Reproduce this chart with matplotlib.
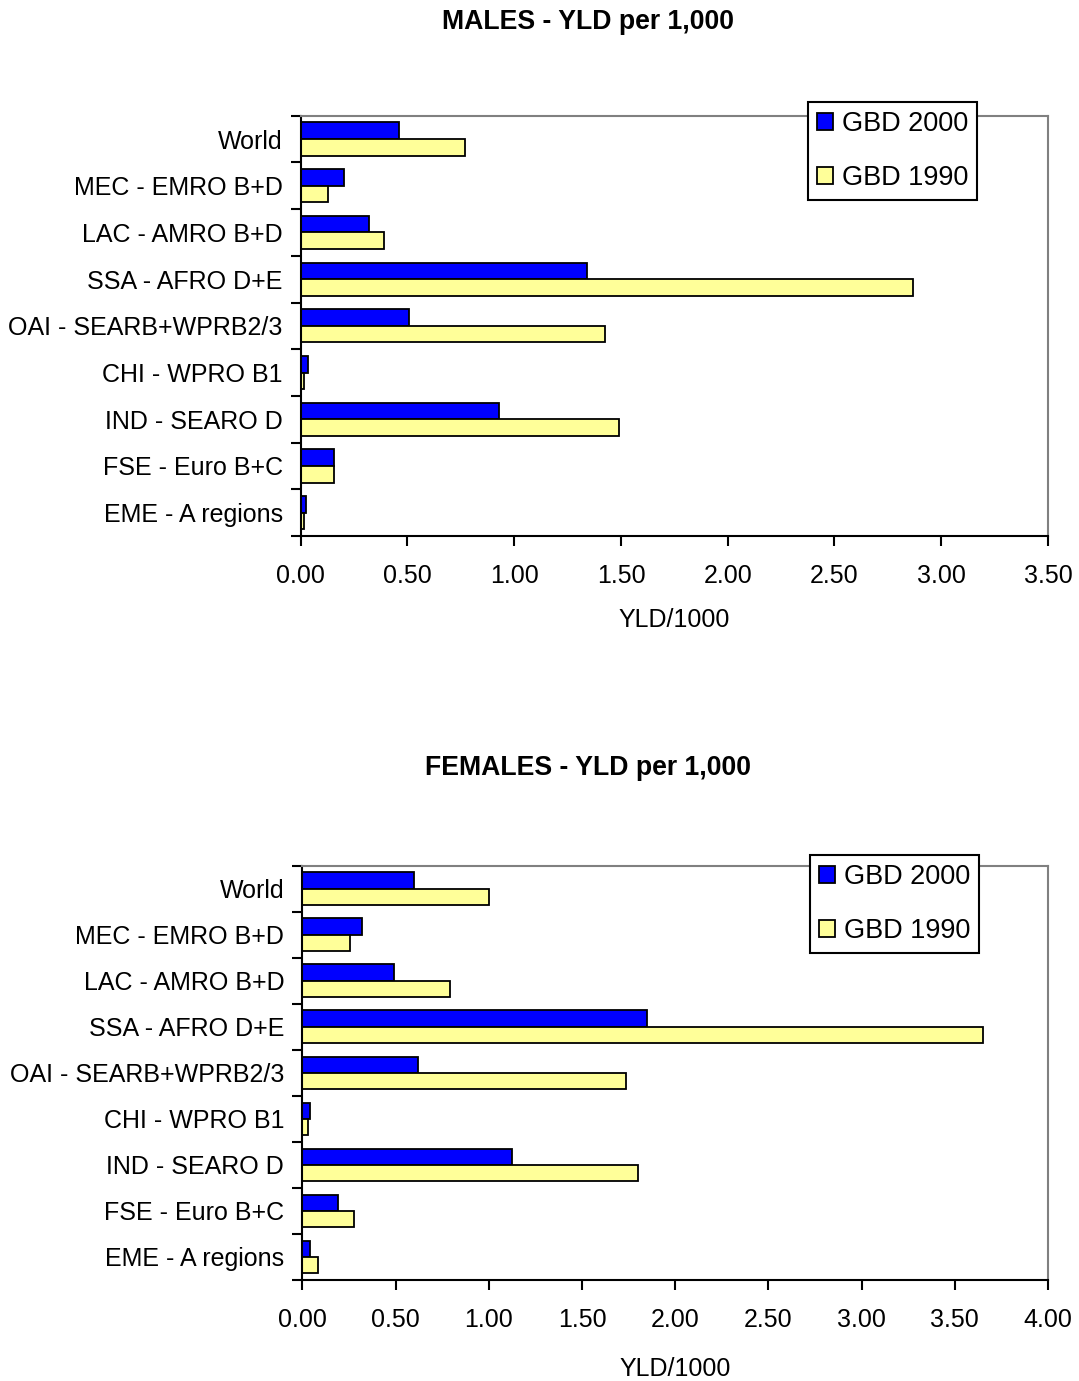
import matplotlib
matplotlib.use("Agg")
import matplotlib.pyplot as plt
import numpy as np

plt.rcParams['font.family'] = ['Liberation Sans', 'DejaVu Sans']

regions = ["World", "MEC - EMRO B+D", "LAC - AMRO B+D", "SSA - AFRO D+E",
           "OAI - SEARB+WPRB2/3", "CHI - WPRO B1", "IND - SEARO D",
           "FSE - Euro B+C", "EME - A regions"]

males_2000 = [0.46, 0.205, 0.32, 1.34, 0.505, 0.036, 0.93, 0.156, 0.025]
males_1990 = [0.77, 0.13, 0.39, 2.87, 1.425, 0.015, 1.49, 0.156, 0.015]

females_2000 = [0.60, 0.32, 0.49, 1.85, 0.62, 0.043, 1.125, 0.193, 0.043]
females_1990 = [1.00, 0.255, 0.79, 3.65, 1.735, 0.032, 1.80, 0.278, 0.086]

W, H = 1079, 1381
fig = plt.figure(figsize=(W / 100, H / 100), dpi=100)


def draw_panel(rect, vals_2000, vals_1990, xmax, title, title_y, legend_xy,
               xlabel_pad):
    ax = fig.add_axes(rect)
    y = np.arange(len(regions))
    h = 0.355
    ax.barh(y - h / 2, vals_2000, height=h, color='#0000FF',
            edgecolor='black', linewidth=1.3, label='GBD 2000')
    ax.barh(y + h / 2, vals_1990, height=h, color='#FFFF99',
            edgecolor='black', linewidth=1.3, label='GBD 1990')
    ax.set_ylim(len(regions) - 0.5, -0.5)
    ax.set_xlim(0, xmax)

    ticks = np.arange(0, xmax + 0.001, 0.5)
    ax.set_xticks(ticks)
    ax.set_xticklabels([f"{t:.2f}" for t in ticks], fontsize=18)
    ax.set_xlabel("YLD/1000", fontsize=18, labelpad=xlabel_pad)

    # boundaries between categories get the tick marks, labels sit in between
    ax.set_yticks(np.arange(-0.5, len(regions), 1.0))
    ax.set_yticklabels([])
    ax.set_yticks(y, minor=True)
    ax.set_yticklabels(regions, minor=True, fontsize=18)
    ax.tick_params(axis='y', which='minor', length=0, pad=13)
    ax.tick_params(axis='y', which='major', length=7, width=1.5, direction='out')
    ax.tick_params(axis='x', length=7, width=1.5, direction='out', pad=13.5)

    for s in ('left', 'bottom'):
        ax.spines[s].set_color('black')
        ax.spines[s].set_linewidth(1.5)
    for s in ('top', 'right'):
        ax.spines[s].set_color('#808080')
        ax.spines[s].set_linewidth(1.5)

    fig.text(588 / W, 1 - title_y / H, title, fontsize=19.2, fontweight='bold',
             ha='center', va='center')

    leg = ax.legend(loc='upper left', bbox_to_anchor=legend_xy,
                    bbox_transform=fig.transFigure, borderaxespad=0,
                    fontsize=19.5, frameon=True, fancybox=False,
                    handlelength=0.6, handleheight=0.6, handletextpad=0.35,
                    labelspacing=1.05, borderpad=0.32)
    leg.get_frame().set_edgecolor('black')
    leg.get_frame().set_linewidth(1.5)
    leg.get_frame().set_alpha(1)
    return ax


draw_panel([300.7 / W, 1 - 536 / H, (1048 - 300.7) / W, (536 - 115.7) / H],
           males_2000, males_1990, 3.5, "MALES - YLD per 1,000", 22,
           (808 / W, 1 - 102 / H), 14)
draw_panel([302.3 / W, 1 - 1280 / H, (1048 - 302.3) / W, (1280 - 865.7) / H],
           females_2000, females_1990, 4.0, "FEMALES - YLD per 1,000", 768,
           (810 / W, 1 - 855 / H), 18)

fig.savefig("out.png", dpi=100)
